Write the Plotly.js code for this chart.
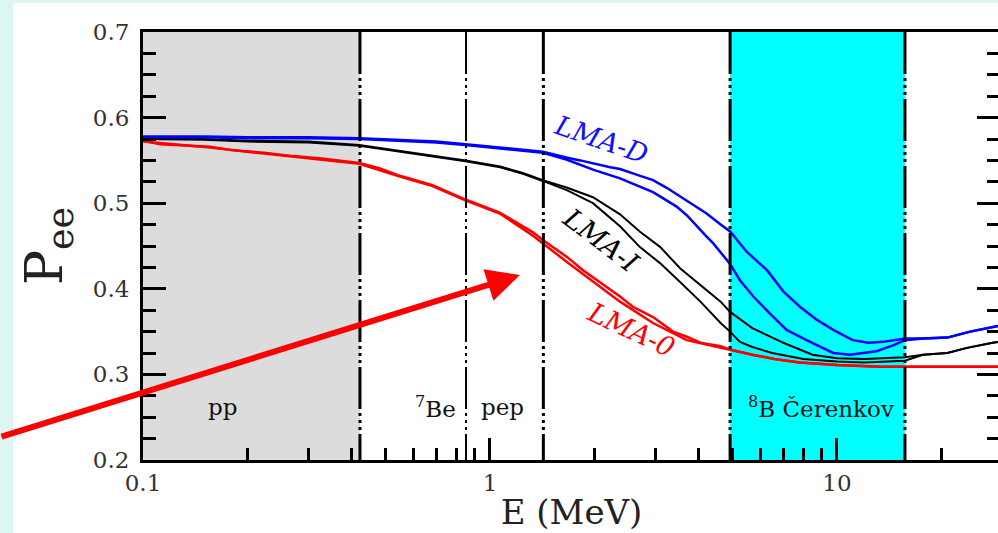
<!DOCTYPE html>
<html>
<head>
<meta charset="utf-8">
<script src="https://cdn.plot.ly/plotly-3.0.1.min.js"></script>
<style>
  html, body { margin: 0; padding: 0; overflow: hidden; background: #ddf6f3; }
  #chart { width: 1002px; height: 533px; }
</style>
</head>
<body>
<div id="chart"></div>
<script>
// ---------------- data (energies in MeV, survival probability P_ee) ----------------
const E_blueHi = [0.1, 0.15, 0.2, 0.3, 0.42, 0.55, 0.7, 0.85, 1.0, 1.2, 1.42, 1.67, 1.82, 2.22, 2.37, 2.71, 2.95, 3.23, 3.69, 4.21, 4.62, 4.92, 5.5, 6.28, 7.0, 7.82, 8.74, 9.75, 11.1, 12.3, 13.6, 15.7, 17.7, 20.8, 24.2, 28.1, 29.5];
const P_blueHi = [0.578, 0.578, 0.577, 0.577, 0.576, 0.574, 0.572, 0.569, 0.566, 0.563, 0.560, 0.553, 0.550, 0.542, 0.540, 0.532, 0.527, 0.518, 0.503, 0.488, 0.475, 0.467, 0.443, 0.422, 0.397, 0.379, 0.364, 0.352, 0.340, 0.337, 0.338, 0.342, 0.342, 0.343, 0.350, 0.355, 0.357];

const E_blueLo = [0.1, 0.15, 0.2, 0.3, 0.42, 0.55, 0.7, 0.85, 1.0, 1.2, 1.42, 1.66, 1.99, 2.37, 2.71, 2.95, 3.09, 3.45, 3.69, 3.94, 4.21, 4.40, 4.92, 5.25, 5.74, 6.41, 7.16, 8.17, 9.75, 10.9, 13.0, 14.5, 15.7, 17.7, 20.8, 24.2, 28.1, 29.5];
const P_blueLo = [0.577, 0.577, 0.576, 0.576, 0.575, 0.573, 0.571, 0.568, 0.565, 0.562, 0.559, 0.551, 0.539, 0.529, 0.519, 0.513, 0.508, 0.496, 0.486, 0.473, 0.461, 0.453, 0.429, 0.410, 0.391, 0.371, 0.352, 0.340, 0.325, 0.323, 0.327, 0.334, 0.340, 0.342, 0.343, 0.350, 0.355, 0.357];

const E_blackHi = [0.1, 0.15, 0.2, 0.3, 0.42, 0.55, 0.68, 0.85, 1.07, 1.25, 1.42, 1.67, 1.98, 2.37, 2.70, 3.09, 3.53, 4.04, 4.62, 4.92, 5.7, 7.0, 8.5, 10.0, 12.0, 15.7, 17.7, 20.8, 23.7, 28.1, 29.5];
const P_blackHi = [0.576, 0.575, 0.573, 0.572, 0.568, 0.561, 0.556, 0.550, 0.543, 0.535, 0.527, 0.518, 0.507, 0.487, 0.467, 0.449, 0.424, 0.404, 0.385, 0.373, 0.354, 0.337, 0.323, 0.319, 0.318, 0.320, 0.323, 0.325, 0.331, 0.337, 0.338];

const E_blackLo = [0.1, 0.15, 0.2, 0.3, 0.42, 0.55, 0.68, 0.85, 1.07, 1.25, 1.42, 1.67, 1.98, 2.37, 2.70, 3.09, 3.53, 4.04, 4.62, 4.92, 5.25, 5.7, 6.5, 8.0, 10.0, 12.0, 15.7, 17.7, 20.8, 23.7, 28.1, 29.5];
const P_blackLo = [0.575, 0.574, 0.572, 0.571, 0.567, 0.560, 0.555, 0.549, 0.542, 0.534, 0.526, 0.515, 0.500, 0.473, 0.449, 0.430, 0.408, 0.385, 0.360, 0.350, 0.338, 0.332, 0.325, 0.318, 0.315, 0.314, 0.316, 0.323, 0.325, 0.331, 0.337, 0.338];

const E_redHi = [0.1, 0.112, 0.156, 0.18, 0.223, 0.272, 0.332, 0.395, 0.42, 0.48, 0.55, 0.683, 0.853, 1.067, 1.33, 1.42, 1.67, 1.85, 2.37, 2.58, 2.95, 3.37, 3.69, 4.04, 4.62, 4.92, 5.7, 6.6, 7.8, 10.0, 13.3, 29.5];
const P_redHi = [0.573, 0.569, 0.566, 0.562, 0.559, 0.555, 0.552, 0.548, 0.547, 0.541, 0.532, 0.521, 0.504, 0.489, 0.466, 0.457, 0.437, 0.422, 0.391, 0.379, 0.367, 0.350, 0.344, 0.337, 0.333, 0.329, 0.323, 0.318, 0.314, 0.311, 0.309, 0.309];

const E_redLo = [0.1, 0.156, 0.223, 0.332, 0.42, 0.55, 0.683, 0.853, 1.067, 1.33, 1.67, 2.37, 2.95, 3.69, 4.62, 5.7, 6.6, 7.8, 10.0, 13.3, 29.5];
const P_redLo = [0.572, 0.565, 0.558, 0.551, 0.546, 0.531, 0.520, 0.503, 0.488, 0.462, 0.431, 0.385, 0.360, 0.340, 0.331, 0.323, 0.318, 0.314, 0.311, 0.309, 0.309];

// energy windows (MeV)
const ppWindow = [0.1, 0.422];
const cerenkovWindow = [4.92, 15.7];
const thresholdLines = [0.422, 0.853, 1.425, 4.92, 15.7];
const thresholdWidths = [3, 2, 3, 3, 3];

// axis ticks
const xTickVals = [0.1, 1, 10];
const xTickText = ['0.1', '1', '10'];
const yTickVals = [0.2, 0.3, 0.4, 0.5, 0.6, 0.7];
const yTickText = ['0.2', '0.3', '0.4', '0.5', '0.6', '0.7'];

// text labels: [text, E, P, color, angle]
const curveLabels = [
  ['LMA-D', 2.10, 0.575, '#1010ff', 19],
  ['LMA-I', 2.10, 0.457, '#000000', 37],
  ['LMA-0', 2.55, 0.352, '#ff0000', 25]
];
const regionLabels = [
  ['pp', 0.169, 0.262],
  ['<sup>7</sup>Be', 0.698, 0.262],
  ['pep', 1.09, 0.262],
  ['<sup>8</sup>B Čerenkov', 9.0, 0.262]
];
const arrowTip = [1.22, 0.416];

// ---------------- traces ----------------
function curve(x, y, color, width) {
  return { type: 'scatter', mode: 'lines', x: x, y: y, hoverinfo: 'skip', showlegend: false,
           line: { color: color, width: width } };
}
const traces = [
  curve(E_redHi, P_redHi, '#ff0000', 2.5),
  curve(E_redLo, P_redLo, '#ff0000', 2.5),
  curve(E_blackHi, P_blackHi, '#000000', 2),
  curve(E_blackLo, P_blackLo, '#000000', 2),
  curve(E_blueHi, P_blueHi, '#0000ff', 2.5),
  curve(E_blueLo, P_blueLo, '#0000ff', 2.5)
];

// ---------------- shapes ----------------
const dashPattern = '42px,4px,3px,4px,3px,4px,3px,4px';
const shapes = [
  { type: 'rect', xref: 'paper', yref: 'paper', x0: -130/857, x1: 1.2, y0: -0.3, y1: 1 + 29/428,
    fillcolor: '#ffffff', line: { width: 0 }, layer: 'below' },
  { type: 'rect', xref: 'x', yref: 'paper', x0: ppWindow[0], x1: ppWindow[1], y0: 0, y1: 1,
    fillcolor: '#dcdcdc', line: { width: 0 }, layer: 'below' },
  { type: 'rect', xref: 'x', yref: 'paper', x0: cerenkovWindow[0], x1: cerenkovWindow[1], y0: 0, y1: 1,
    fillcolor: '#00ffff', line: { width: 0 }, layer: 'below' }
];
thresholdLines.forEach((e, i) => {
  shapes.push({ type: 'line', xref: 'x', yref: 'paper', x0: e, x1: e, y0: 1, y1: 0,
    line: { color: '#000000', width: thresholdWidths[i], dash: dashPattern }, layer: 'above' });
});

// ---------------- annotations ----------------
const annotations = [];
curveLabels.forEach(l => {
  annotations.push({ xref: 'x', yref: 'y', x: Math.log10(l[1]), y: l[2], text: '<i>' + l[0] + '</i>',
    showarrow: false, textangle: l[4], font: { family: 'DejaVu Serif', size: 27, color: l[3] } });
});
regionLabels.forEach(l => {
  annotations.push({ xref: 'x', yref: 'y', x: Math.log10(l[1]), y: l[2], text: l[0],
    showarrow: false, font: { family: 'DejaVu Serif', size: 23, color: '#111111' } });
});
annotations.push({ xref: 'x', yref: 'y', x: Math.log10(arrowTip[0]), y: arrowTip[1], text: '',
  showarrow: true, arrowhead: 2, arrowsize: 1.1, arrowwidth: 6, arrowcolor: '#ff0000',
  axref: 'pixel', ayref: 'pixel', ax: -520, ay: 162, standoff: 0 });

const tickFont = { family: 'DejaVu Serif', size: 23, color: '#333333' };

const layout = {
  width: 1002, height: 533,
  margin: { l: 143, r: 2, t: 32, b: 73 },
  paper_bgcolor: '#ddf6f3',
  plot_bgcolor: 'rgba(0,0,0,0)',
  showlegend: false,
  xaxis: {
    type: 'log', range: [Math.log10(0.1), Math.log10(29.5)],
    tickmode: 'array', tickvals: xTickVals, ticktext: xTickText,
    ticks: 'inside', ticklen: 22, tickwidth: 3, tickcolor: '#000',
    minor: { ticks: 'inside', ticklen: 12, tickwidth: 3, tickcolor: '#000', dtick: 'D1', showgrid: false },
    showline: true, linewidth: 3, linecolor: '#000', mirror: true,
    showgrid: false, zeroline: false, tickfont: tickFont,
    title: { text: 'E (MeV)', font: { family: 'DejaVu Serif', size: 34, color: '#222' }, standoff: 6 }
  },
  yaxis: {
    range: [0.2, 0.7],
    tickmode: 'array', tickvals: yTickVals, ticktext: yTickText,
    ticks: 'inside', ticklen: 23, tickwidth: 3, tickcolor: '#000',
    minor: { ticks: 'inside', ticklen: 13, tickwidth: 3, tickcolor: '#000', dtick: 0.025, tick0: 0.2, showgrid: false },
    showline: true, linewidth: 3, linecolor: '#000', mirror: 'ticks',
    showgrid: false, zeroline: false, tickfont: tickFont, ticklabelstandoff: 6,
    title: { text: 'P<sub>ee</sub>', font: { family: 'DejaVu Serif', size: 52, color: '#222' }, standoff: 14 }
  },
  shapes: shapes,
  annotations: annotations
};

Plotly.newPlot('chart', traces, layout, { staticPlot: true, displayModeBar: false });
</script>
</body>
</html>
